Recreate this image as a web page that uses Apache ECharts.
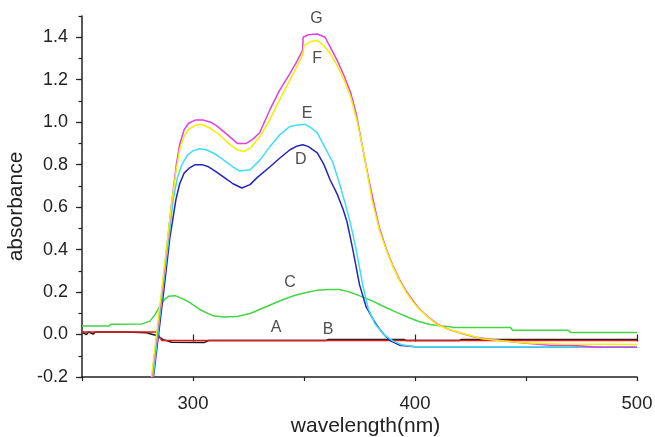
<!DOCTYPE html>
<html>
<head>
<meta charset="utf-8">
<script src="https://cdn.jsdelivr.net/npm/echarts@6/dist/echarts.min.js"></script>
<style>
html,body{margin:0;padding:0;background:#fff;}
#chart{width:655px;height:437px;}
</style>
</head>
<body>
<div id="chart"></div>
<script>
// ---- data (wavelength nm / absorbance) ----
const wlA  = [250, 283.5, 286, 500];
const absA = [0.012, 0.012, -0.028, -0.028];

const wlB  = [250, 252, 253, 255, 256, 258, 270, 279, 283.6, 286.6, 290.4, 305, 307, 360, 361, 395, 396, 420, 421, 500];
const absB = [0.012, 0.0, 0.012, 0.002, 0.012, 0.012, 0.012, 0.008, -0.005, -0.024, -0.036, -0.038, -0.028, -0.028, -0.023, -0.023, -0.028, -0.028, -0.023, -0.023];

const wlC  = [250, 262, 263, 277, 280.6, 283, 285, 287, 289, 292, 295, 298.6, 303, 309, 314, 320, 326, 330, 335, 340.7, 346, 351, 355.7, 361, 366, 370, 373.7, 380, 385.7, 392, 397.7, 402, 406.8, 412, 416, 417, 443, 444, 469, 470, 500];
const absC = [0.04, 0.04, 0.048, 0.05, 0.063, 0.095, 0.133, 0.163, 0.18, 0.183, 0.17, 0.15, 0.118, 0.088, 0.083, 0.085, 0.1, 0.118, 0.14, 0.165, 0.185, 0.198, 0.208, 0.212, 0.212, 0.202, 0.188, 0.162, 0.133, 0.103, 0.078, 0.06, 0.047, 0.04, 0.037, 0.033, 0.033, 0.02, 0.02, 0.01, 0.01];

const wlD  = [282.2, 287, 289.5, 292.3, 294, 296, 298.5, 301, 304, 307, 310, 314, 318, 322, 325.7, 329, 334.7, 339, 343.7, 347, 349.5, 352, 356, 359, 361.7, 365, 367.6, 369.4, 372, 375, 378, 381, 383, 386, 389, 393, 400, 500];
const absD = [-0.2, 0.22, 0.45, 0.635, 0.71, 0.76, 0.785, 0.80, 0.80, 0.79, 0.77, 0.74, 0.71, 0.69, 0.706, 0.74, 0.79, 0.83, 0.87, 0.888, 0.894, 0.885, 0.855, 0.80, 0.73, 0.66, 0.59, 0.53, 0.40, 0.235, 0.13, 0.075, 0.04, 0.0, -0.03, -0.05, -0.057, -0.057];

const wlE  = [282, 286.5, 289.3, 291.1, 293, 295, 297.5, 300, 303, 306, 310, 314, 318, 321, 325.7, 330, 334.7, 339, 343.7, 347, 350.5, 353, 356, 359, 363, 366, 369, 371, 373.5, 376.6, 379, 382, 386, 390, 394, 400, 500];
const absE = [-0.2, 0.22, 0.47, 0.635, 0.74, 0.80, 0.845, 0.865, 0.875, 0.87, 0.85, 0.82, 0.79, 0.77, 0.776, 0.82, 0.885, 0.94, 0.98, 0.987, 0.99, 0.975, 0.95, 0.89, 0.81, 0.71, 0.60, 0.52, 0.40, 0.226, 0.12, 0.05, 0.0, -0.03, -0.048, -0.058, -0.058];

const wlF  = [281.3, 286, 290.4, 292.5, 294, 296, 298, 301, 304, 308, 312, 316, 320, 323, 326, 330, 334, 338, 342, 346, 349.5, 350, 353, 356, 359, 362, 365, 368, 371, 374, 377, 380.6, 384, 387, 390, 393, 396, 399, 402, 406, 410, 415, 420, 425, 430, 440, 450, 465, 500];
const absF = [-0.2, 0.22, 0.62, 0.78, 0.87, 0.935, 0.965, 0.985, 0.99, 0.97, 0.94, 0.90, 0.87, 0.862, 0.88, 0.93, 1.0, 1.085, 1.165, 1.245, 1.32, 1.36, 1.38, 1.385, 1.36, 1.32, 1.265, 1.2, 1.12, 1.0, 0.85, 0.635, 0.49, 0.4, 0.32, 0.255, 0.2, 0.155, 0.118, 0.08, 0.047, 0.025, 0.01, -0.005, -0.02, -0.03, -0.04, -0.045, -0.047];

const wlG  = [281.5, 286, 290.4, 292.5, 294, 296, 298, 301, 304.5, 308, 311, 315, 320, 324, 327, 330, 334.7, 339, 343.7, 347, 349.4, 349.6, 352, 356, 359.5, 362, 365, 368, 371, 373.5, 376.6, 379, 381, 384, 387, 390, 393, 396, 399, 402, 406, 410, 415, 420, 426, 432, 440, 449, 461, 470, 483, 500];
const absG = [-0.2, 0.2, 0.62, 0.8, 0.895, 0.965, 0.995, 1.01, 1.01, 1.0, 0.98, 0.945, 0.9, 0.9, 0.92, 0.95, 1.06, 1.15, 1.23, 1.29, 1.34, 1.40, 1.412, 1.415, 1.40, 1.35, 1.29, 1.22, 1.14, 1.04, 0.87, 0.74, 0.64, 0.5, 0.405, 0.325, 0.26, 0.205, 0.16, 0.12, 0.082, 0.05, 0.025, 0.008, -0.01, -0.02, -0.03, -0.04, -0.05, -0.05, -0.06, -0.06];

// curve labels
const labelText = ['G', 'F', 'E', 'D', 'C', 'A', 'B'];
const labelWl   = [355.6, 355.9, 351.4, 348.6, 343.7, 337.4, 360.8];
const labelAbs  = [1.49, 1.30, 1.04, 0.824, 0.245, 0.033, 0.024];

// axis ticks
const xTickLabels = [300, 400, 500];
const yTickLabels = [-0.2, 0.0, 0.2, 0.4, 0.6, 0.8, 1.0, 1.2, 1.4];

const pairs = (xs, ys) => xs.map((x, i) => [x, ys[i]]);

const FONT = '"Liberation Sans", Arial, Helvetica, sans-serif';
const AX = '#222';

function line(name, xs, ys, color) {
  return {
    name, type: 'line', data: pairs(xs, ys), showSymbol: false, symbol: 'none',
    lineStyle: { color, width: 1.5 }, itemStyle: { color }, animation: false,
    xAxisIndex: 0, yAxisIndex: 0, silent: true, z: 3
  };
}

const chart = echarts.init(document.getElementById('chart'), null, { renderer: 'canvas' });
chart.setOption({
  backgroundColor: '#fff',
  animation: false,
  grid: { left: 82, right: 18, top: 16, bottom: 60, containLabel: false, outerBoundsMode: 'none' },
  xAxis: [{
    type: 'value', min: 250, max: 500, interval: 50,
    name: 'wavelength(nm)', nameLocation: 'middle', nameGap: 39, nameMoveOverlap: false,
    nameTextStyle: { fontFamily: FONT, fontSize: 21, color: AX, padding: [0, 0, 0, 12] },
    axisLine: { show: true, onZero: false, lineStyle: { color: AX, width: 1.5 } },
    axisTick: { show: true, inside: false, length: 4, lineStyle: { color: AX, width: 1.2 } },
    axisLabel: { show: true, customValues: xTickLabels, margin: 17, fontFamily: FONT, fontSize: 18.5, color: AX },
    splitLine: { show: false }
  }, {
    type: 'value', min: 250, max: 500, position: 'bottom',
    axisLine: { show: false },
    axisTick: { show: true, customValues: xTickLabels, length: 7, lineStyle: { color: AX, width: 1.2 } },
    axisLabel: { show: false }, splitLine: { show: false }
  }],
  yAxis: [{
    type: 'value', min: -0.2, max: 1.5, interval: 0.1,
    name: 'absorbance', nameLocation: 'middle', nameGap: 55, nameRotate: 90, nameMoveOverlap: false,
    nameTextStyle: { fontFamily: FONT, fontSize: 21, color: AX, padding: [0, 20, 0, 0] },
    axisLine: { show: true, onZero: false, lineStyle: { color: AX, width: 1.5 } },
    axisTick: { show: true, length: 3.5, lineStyle: { color: AX, width: 1.2 } },
    axisLabel: { show: true, customValues: yTickLabels, margin: 14, fontFamily: FONT, fontSize: 18, color: AX,
      formatter: v => Number(v).toFixed(1) },
    splitLine: { show: false }
  }, {
    type: 'value', min: -0.2, max: 1.5, position: 'left',
    axisLine: { show: false },
    axisTick: { show: true, customValues: yTickLabels, length: 6, lineStyle: { color: AX, width: 1.2 } },
    axisLabel: { show: false }, splitLine: { show: false }
  }],
  series: [
    line('B', wlB, absB, '#1a1a1a'),
    line('A', wlA, absA, '#e01818'),
    line('C', wlC, absC, '#44d444'),
    line('D', wlD, absD, '#2424c0'),
    line('E', wlE, absE, '#3ce0f0'),
    line('G', wlG, absG, '#e040e0'),
    line('F', wlF, absF, '#f6ee00'),
    {
      type: 'scatter', symbolSize: 0, silent: true, z: 5,
      data: labelText.map((t, i) => [labelWl[i], labelAbs[i], t]),
      label: { show: true, position: 'inside', formatter: p => p.value[2],
        fontFamily: FONT, fontSize: 16, color: '#222' }
    }
  ]
});
</script>
</body>
</html>
